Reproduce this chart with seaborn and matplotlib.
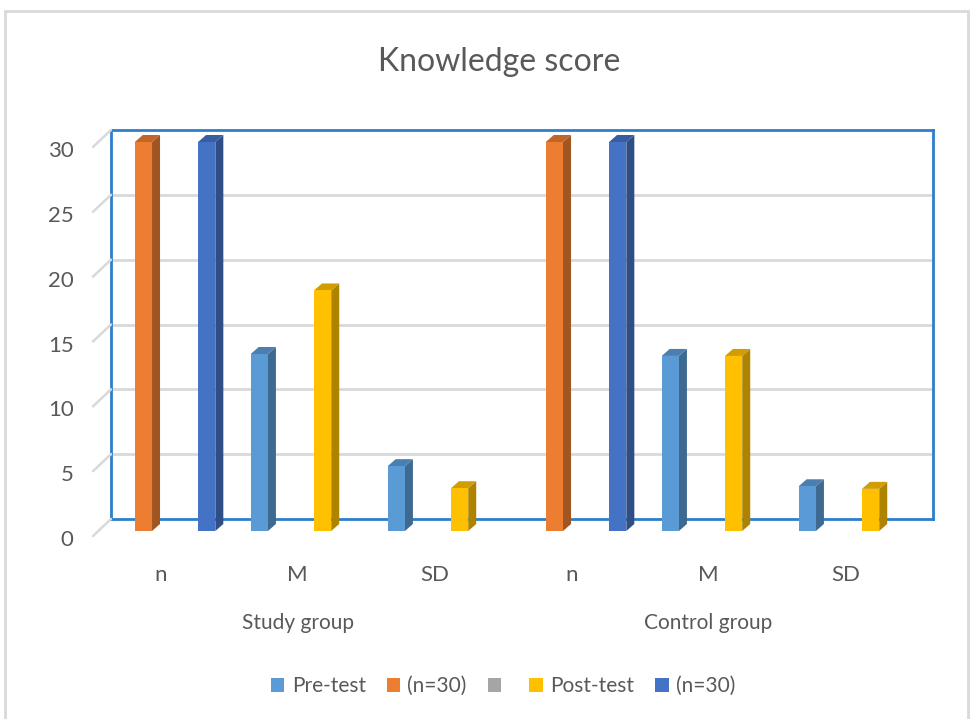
import numpy as np
import pandas as pd
import matplotlib
matplotlib.use("Agg")
import matplotlib.pyplot as plt
import matplotlib.transforms as mtrans
from matplotlib.patches import Polygon, Patch, Rectangle
import seaborn as sns

# ---------------- data ----------------
groups = ["Study group", "Study group", "Study group",
          "Control group", "Control group", "Control group"]
categories = ["n", "M", "SD", "n", "M", "SD"]
pre_test = [np.nan, 13.65, 5.0, np.nan, 13.5, 3.45]
n30_first = [30, np.nan, np.nan, 30, np.nan, np.nan]
blank_series = [np.nan, np.nan, np.nan, np.nan, np.nan, np.nan]
post_test = [np.nan, 18.55, 3.3, np.nan, 13.5, 3.25]
n30_second = [30, np.nan, np.nan, 30, np.nan, np.nan]
y_ticks = [0, 5, 10, 15, 20, 25, 30]

series_keys = ["Pre-test", "(n=30) a", "blank", "Post-test", "(n=30) b"]
series_labels = ["Pre-test", "(n=30)", "", "Post-test", "(n=30)"]
series_vals = [pre_test, n30_first, blank_series, post_test, n30_second]
colors = ["#5B9BD5", "#ED7D31", "#A5A5A5", "#FFC000", "#4472C4"]

xkeys = [f"{g}|{c}|{i}" for i, (g, c) in enumerate(zip(groups, categories))]
rows = []
for key, vals in zip(series_keys, series_vals):
    for xk, v in zip(xkeys, vals):
        rows.append({"x": xk, "series": key, "value": v})
df = pd.DataFrame(rows)

# ---------------- figure ----------------
sns.set_theme(style="white")
plt.rcParams["font.family"] = ["Lato", "DejaVu Sans"]
W, H = 973, 719
fig = plt.figure(figsize=(W / 100, H / 100), dpi=100)
ax = fig.add_axes([111 / W, (H - 519) / H, 822 / W, 389 / H])

sns.barplot(data=df, x="x", y="value", hue="series", order=xkeys,
            hue_order=series_keys, palette=colors, width=0.77, gap=0.04,
            ax=ax, legend=False, saturation=1, errorbar=None)

ax.set_xlim(-0.5, len(xkeys) - 0.5)
ax.set_ylim(0, 30)
ax.set_xlabel("")
ax.set_ylabel("")

# back wall styling
for s in ax.spines.values():
    s.set_color("#2E7FCB")
    s.set_linewidth(2)
ax.set_yticks(y_ticks)
for t in y_ticks[1:-1]:
    ax.axhline(t, color="#D9D9D9", lw=2, zorder=0)
ax.tick_params(axis="y", length=0, pad=27, labelsize=16, labelcolor="#595959")
ax.tick_params(axis="x", length=0, pad=33, labelsize=16, labelcolor="#595959")
ax.set_xticks(range(len(xkeys)))
ax.set_xticklabels(categories)

yoff = mtrans.ScaledTranslation(0, -19 / 100, fig.dpi_scale_trans)
for lab in ax.get_yticklabels():
    lab.set_transform(lab.get_transform() + yoff)
xoff = mtrans.ScaledTranslation(-19 / 100, 0, fig.dpi_scale_trans)
for lab in ax.get_xticklabels():
    lab.set_transform(lab.get_transform() + xoff)

# perspective diagonals at the left of each gridline
to_fig = fig.transFigure.inverted()
for t in y_ticks:
    px, py = ax.transData.transform((-0.5, t))
    (fx0, fy0), (fx1, fy1) = to_fig.transform([(px, py), (px - 18, py - 17)])
    fig.add_artist(plt.Line2D([fx0, fx1], [fy0, fy1], color="#D9D9D9", lw=1.8))

# 3D-looking bars: shift front faces, add side and top faces
shift_x, shift_y = -13.5, -12
depth_x, depth_y = 8, 7


def darker(c, f):
    r, g, b = matplotlib.colors.to_rgb(c)
    return (r * f, g * f, b * f)


bars = [p for p in ax.patches if isinstance(p, Rectangle) and p.get_height() > 0
        and p is not ax.patch]
for p in bars:
    x0 = p.get_x()
    x1 = x0 + p.get_width()
    h = p.get_height()
    col = p.get_facecolor()
    (ax0, ay0), (ax1, ay1) = ax.transData.transform([(x0, 0), (x1, h)])
    ax1 -= 3
    ax0 += shift_x; ax1 += shift_x; ay0 += shift_y; ay1 += shift_y
    front = [(ax0, ay0), (ax1, ay0), (ax1, ay1), (ax0, ay1)]
    side = [(ax1, ay0), (ax1 + depth_x, ay0 + depth_y),
            (ax1 + depth_x, ay1 + depth_y), (ax1, ay1)]
    top = [(ax0, ay1), (ax1, ay1), (ax1 + depth_x, ay1 + depth_y),
           (ax0 + depth_x, ay1 + depth_y)]
    for poly, c in [(side, darker(col, 0.68)), (top, darker(col, 0.82)), (front, col)]:
        fig.add_artist(Polygon(to_fig.transform(poly), closed=True,
                               facecolor=c, edgecolor="none", zorder=5))
    p.set_visible(False)

# group labels
blend = mtrans.blended_transform_factory(ax.transData, fig.transFigure) + xoff
ax.text(1, (H - 623) / H, "Study group", transform=blend, ha="center",
        va="center", fontsize=15, color="#595959")
ax.text(4, (H - 623) / H, "Control group", transform=blend, ha="center",
        va="center", fontsize=15, color="#595959")

# title
fig.text(499 / W, (H - 62) / H, "Knowledge score", ha="center", va="center",
         fontsize=23, color="#595959")

# legend
handles = [Patch(facecolor=c, edgecolor="none") for c in colors]
leg = fig.legend(handles, series_labels, loc="center", ncol=5,
                 bbox_to_anchor=(503 / W, (H - 686) / H), frameon=False,
                 fontsize=15, handlelength=0.65, handleheight=0.65,
                 handletextpad=0.35, columnspacing=1.0, labelcolor="#595959")

# outer chart border
fig.add_artist(Rectangle((5 / W, -0.01), 963 / W, (H - 11) / H + 0.01,
                         transform=fig.transFigure, fill=False,
                         edgecolor="#D9D9D9", lw=2))

fig.savefig("out.png", dpi=100)
